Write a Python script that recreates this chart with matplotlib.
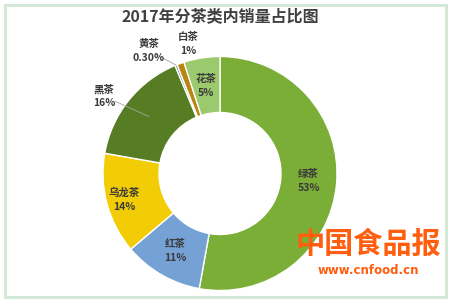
import numpy as np
import matplotlib
matplotlib.use('Agg')
import matplotlib.pyplot as plt
from matplotlib.patches import Rectangle

plt.rcParams['font.family'] = ['Noto Sans CJK SC', 'DejaVu Sans']

# 数据
categories = ['绿茶', '红茶', '乌龙茶', '黑茶', '黄茶', '白茶', '花茶']
shares = [53, 11, 14, 16, 0.3, 1, 5]
pct_labels = ['53%', '11%', '14%', '16%', '0.30%', '1%', '5%']
colors = ['#7aae36', '#75a1d5', '#f2cd05', '#577d24', '#4a6c8f', '#b7860f', '#9bc96d']

# 标签放置：半径（相对外径），角度偏移，引线终点半径
label_r = [0.76, 0.76, 0.85, 1.19, 1.21, 1.14, 0.76]
label_dtheta = [0, 0, 0, 5, 8, -6, 0]
leader_r = [None, None, None, 0.78, 1.0, None, None]

W, H = 450, 301
fig = plt.figure(figsize=(W / 100, H / 100), dpi=100)
ax = fig.add_axes([0, 0, 1, 1])

cx, cy, R = 220, H - 173.5, 117
wedges, _ = ax.pie(shares, colors=colors, startangle=90, counterclock=False,
                   radius=R, center=(cx, cy),
                   wedgeprops=dict(width=56, edgecolor='white', linewidth=1.0))
ax.set_xlim(0, W)
ax.set_ylim(0, H)
ax.set_aspect('equal')
ax.axis('off')

txt_color = '#3a3a3a'
for w, cat, pl, lr, dt, ld in zip(wedges, categories, pct_labels,
                                   label_r, label_dtheta, leader_r):
    mid = np.deg2rad((w.theta1 + w.theta2) / 2)
    ang = mid + np.deg2rad(dt)
    tx, ty = cx + lr * R * np.cos(ang), cy + lr * R * np.sin(ang)
    ax.text(tx, ty, cat + '\n' + pl, ha='center', va='center', fontsize=7.5,
            fontweight='bold', color=txt_color, linespacing=1.5)
    if ld is not None:
        # 引线
        ex, ey = cx + ld * R * np.cos(mid), cy + ld * R * np.sin(mid)
        sx = tx + (ex - tx) * 0.25
        sy = ty + (ey - ty) * 0.25
        ax.plot([sx, ex], [sy, ey], color='#a6a6a6', lw=0.6)

ax.text(cx, H - 16, '2017年分茶类内销量占比图', ha='center', va='center',
        fontsize=11.5, fontweight='bold', color='#404040')

# 水印
ax.text(368, H - 244, '中国食品报', ha='center', va='center', fontsize=21,
        fontweight='bold', color='#ff5e0e')
ax.text(368, H - 271, 'www.cnfood.cn', ha='center', va='center', fontsize=8.5,
        fontweight='bold', color='#ff5e0e', family='DejaVu Sans')

# 边框
fig.patches.append(Rectangle((4.5 / W, 4.5 / H), 441.5 / W, 292 / H,
                             transform=fig.transFigure, fill=False,
                             edgecolor='#d3e8d5', linewidth=2.2))

fig.savefig('out.png', dpi=100)
